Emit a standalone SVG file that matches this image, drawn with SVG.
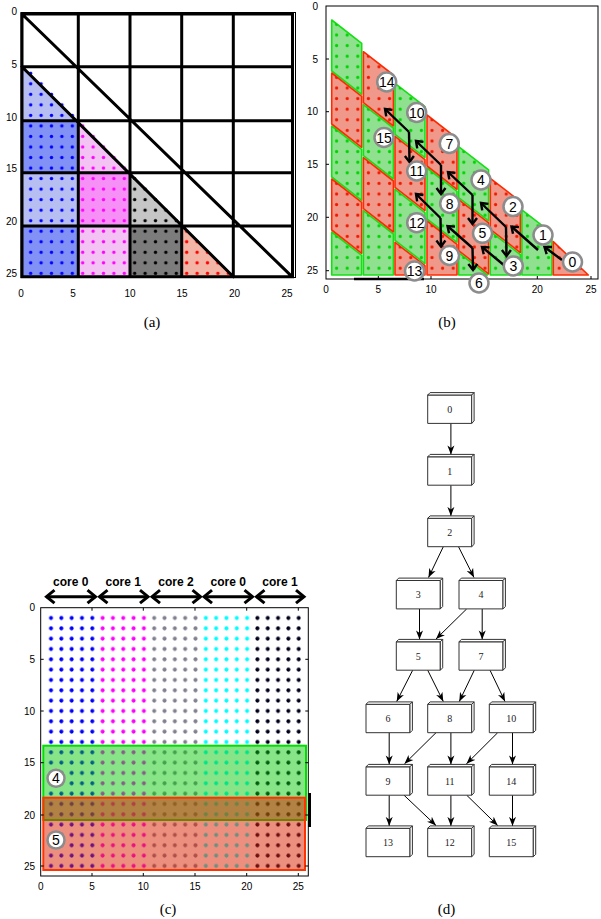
<svg xmlns="http://www.w3.org/2000/svg" width="601" height="919" viewBox="0 0 601 919">
<style>
  .tick{font-family:"Liberation Sans",Arial,sans-serif;font-size:10px;fill:#000}
  .tick.y{text-anchor:end}
  .tick.x{text-anchor:middle}
  .grid{stroke:#000;stroke-width:3;fill:none;stroke-linecap:square}
  .frame{stroke:#000;stroke-width:1;fill:none}
  .gt{fill:#8fe08f;stroke:#14e014;stroke-width:1.6;stroke-linejoin:round}
  .rt{fill:#f0998a;stroke:#ff2a00;stroke-width:1.6;stroke-linejoin:round}
  .badge circle{fill:#fff;stroke:#8c8c8c;stroke-width:2.5}
  .badge text{font-family:"Liberation Sans",Arial,sans-serif;font-size:14px;text-anchor:middle;fill:#000}
  .flow{stroke:#000;stroke-width:2.4;fill:none;marker-end:url(#chev)}
  .core{font-family:"Liberation Sans",Arial,sans-serif;font-weight:bold;font-size:12px;text-anchor:middle}
  .span{stroke:#000;stroke-width:3;marker-start:url(#chevL);marker-end:url(#chevL)}
  .node text{font-family:"Liberation Serif","Times New Roman",serif;font-size:10px;text-anchor:middle;fill:#222}
  .edge{stroke:#000;stroke-width:1;fill:none;marker-end:url(#vee)}
  .cap{font-family:"Liberation Serif","Times New Roman",serif;font-size:15px;text-anchor:middle}
</style>
<defs>
  <!-- arrowheads -->
  <marker id="chev" markerUnits="userSpaceOnUse" markerWidth="10" markerHeight="12" viewBox="0 0 10 12" refX="7.5" refY="6" orient="auto">
    <path d="M1.5,1.5 L7.5,6 L1.5,10.5" fill="none" stroke="#000" stroke-width="2.4"/>
  </marker>
  <marker id="chevL" markerUnits="userSpaceOnUse" markerWidth="12" markerHeight="16" viewBox="0 0 12 16" refX="9.5" refY="8" orient="auto-start-reverse">
    <path d="M1.5,1.5 L9.5,8 L1.5,14.5" fill="none" stroke="#000" stroke-width="3"/>
  </marker>
  <marker id="vee" markerUnits="userSpaceOnUse" markerWidth="10" markerHeight="8" viewBox="0 0 10 8" refX="9" refY="4" orient="auto">
    <path d="M0,0.5 L9,4 L0,7.5 L2.5,4 z" fill="#000"/>
  </marker>

  <!-- dot lattices, panel (a) -->
  <pattern id="aBlue" patternUnits="userSpaceOnUse" x="15.1" y="4.835" width="10.4" height="10.53"><circle cx="5.2" cy="5.265" r="1.7" fill="#0000ff"/></pattern>
  <pattern id="aMag" patternUnits="userSpaceOnUse" x="15.1" y="4.835" width="10.4" height="10.53"><circle cx="5.2" cy="5.265" r="1.7" fill="#ff00ff"/></pattern>
  <pattern id="aBlk" patternUnits="userSpaceOnUse" x="15.1" y="4.835" width="10.4" height="10.53"><circle cx="5.2" cy="5.265" r="1.7" fill="#000"/></pattern>
  <pattern id="aRed" patternUnits="userSpaceOnUse" x="15.1" y="4.835" width="10.4" height="10.53"><circle cx="5.2" cy="5.265" r="1.7" fill="#ff0000"/></pattern>
  <!-- dot lattices, panel (b) -->
  <pattern id="bG" patternUnits="userSpaceOnUse" x="320.7" y="-2.1" width="10.6" height="10.6"><circle cx="5.3" cy="5.3" r="1.6" fill="#00d400"/></pattern>
  <pattern id="bR" patternUnits="userSpaceOnUse" x="320.7" y="-2.1" width="10.6" height="10.6"><circle cx="5.3" cy="5.3" r="1.6" fill="#f01800"/></pattern>
  <!-- dot lattices, panel (c) -->
  <pattern id="cBlue" patternUnits="userSpaceOnUse" x="35.54" y="602.535" width="10.32" height="10.33"><circle cx="5.16" cy="5.165" r="2" fill="#0000ff"/></pattern>
  <pattern id="cMag" patternUnits="userSpaceOnUse" x="35.54" y="602.535" width="10.32" height="10.33"><circle cx="5.16" cy="5.165" r="2" fill="#ff00ff"/></pattern>
  <pattern id="cGray" patternUnits="userSpaceOnUse" x="35.54" y="602.535" width="10.32" height="10.33"><circle cx="5.16" cy="5.165" r="2" fill="#80808e"/></pattern>
  <pattern id="cCyan" patternUnits="userSpaceOnUse" x="35.54" y="602.535" width="10.32" height="10.33"><circle cx="5.16" cy="5.165" r="2" fill="#00ffff"/></pattern>
  <pattern id="cBlk" patternUnits="userSpaceOnUse" x="35.54" y="602.535" width="10.32" height="10.33"><circle cx="5.16" cy="5.165" r="2" fill="#00001a"/></pattern>

  <!-- panel (b) tiles -->
  <polygon id="g1" points="331.7,20 361.7,43.3 361.7,94.3 331.7,71"/>
  <polygon id="g2" points="331.7,126 361.7,149.3 361.7,200.3 331.7,177"/>
  <polygon id="g3" points="331.7,232 361.7,255.3 361.7,275 331.7,275"/>
  <polygon id="g4" points="363.4,104.7 393.4,128 393.4,179 363.4,155.7"/>
  <polygon id="g5" points="363.4,210.7 393.4,234 393.4,275 363.4,275"/>
  <polygon id="g6" points="395,83.3 425,106.6 425,157.6 395,134.3"/>
  <polygon id="g7" points="395,189.3 425,212.6 425,263.6 395,240.3"/>
  <polygon id="g8" points="427,168 457,191.3 457,242.3 427,219"/>
  <polygon id="g9" points="458.6,146.6 488.6,169.9 488.6,220.9 458.6,197.6"/>
  <polygon id="g10" points="458.6,252.6 487.4,275 458.6,275"/>
  <polygon id="g11" points="490.3,231.3 520.3,254.6 520.3,275 490.3,275"/>
  <polygon id="g12" points="521.9,209.9 551.9,233.2 551.9,275 521.9,275"/>
  <polygon id="r1" points="331.7,73 361.7,96.3 361.7,147.3 331.7,124"/>
  <polygon id="r2" points="331.7,179 361.7,202.3 361.7,253.3 331.7,230"/>
  <polygon id="r3" points="363.4,51.7 393.4,75 393.4,126 363.4,102.7"/>
  <polygon id="r4" points="363.4,157.7 393.4,181 393.4,232 363.4,208.7"/>
  <polygon id="r5" points="395,136.3 425,159.6 425,210.6 395,187.3"/>
  <polygon id="r6" points="395,242.3 425,265.6 425,275 395,275"/>
  <polygon id="r7" points="427,115 457,138.3 457,189.3 427,166"/>
  <polygon id="r8" points="427,221 457,244.3 457,275 427,275"/>
  <polygon id="r9" points="458.6,199.6 488.6,222.9 488.6,273.9 458.6,250.6"/>
  <polygon id="r10" points="490.3,178.3 520.3,201.6 520.3,252.6 490.3,229.3"/>
  <polygon id="r11" points="553.3,241.6 588.3,275 553.3,275"/>

  <!-- 3D task box, centred on the front face -->
  <g id="box" fill="#fff" stroke="#333" stroke-width="1" stroke-linejoin="round">
    <rect x="-22" y="-14.2" width="44" height="28.4"/>
    <path d="M-22,-14.2 L-19.6,-16.6 L24.4,-16.6 L22,-14.2 Z"/>
    <path d="M22,-14.2 L24.4,-16.6 L24.4,11.8 L22,14.2 Z"/>
  </g>
</defs>

<rect width="601" height="919" fill="#fff"/>

<!-- ===== (a) block layout of the lower triangle ===== -->
<g id="panel-a">
  <g id="a-fills">
    <polygon points="22,66.7 78.3,120.7 22,120.7" fill="#b6bef2"/>
    <rect x="22" y="120.7" width="56.3" height="52" fill="#8191f5"/>
    <rect x="22" y="172.7" width="56.3" height="53.3" fill="#b6bef2"/>
    <rect x="22" y="226" width="56.3" height="50.7" fill="#8191f5"/>
    <polygon points="78.3,120.7 130,172.7 78.3,172.7" fill="#f3c3f3"/>
    <rect x="78.3" y="172.7" width="51.7" height="53.3" fill="#f690f6"/>
    <rect x="78.3" y="226" width="51.7" height="50.7" fill="#f3c3f3"/>
    <polygon points="130,172.7 181.7,226 130,226" fill="#c6c6c6"/>
    <rect x="130" y="226" width="51.7" height="50.7" fill="#7c7c7c"/>
    <polygon points="181.7,226 233.3,276.7 181.7,276.7" fill="#f3b5a5"/>
  </g>
  <g id="a-dots">
    <polygon points="25.5,63 77.5,115.7 77.5,278.6 25.5,278.6" fill="url(#aBlue)"/>
    <polygon points="77.5,115.7 129.5,168.3 129.5,278.6 77.5,278.6" fill="url(#aMag)"/>
    <polygon points="129.5,168.3 181.5,221 181.5,278.6 129.5,278.6" fill="url(#aBlk)"/>
    <polygon points="181.5,221 233.5,273.6 233.5,278.6 181.5,278.6" fill="url(#aRed)"/>
  </g>
  <rect class="frame" x="21" y="12.5" width="274.5" height="265"/>
  <path class="grid" d="M22,14 V276.7 M78.3,14 V276.7 M130,14 V276.7 M181.7,14 V276.7 M233.3,14 V276.7 M292.5,14 V276.7
    M22,14 H292.5 M22,66.7 H292.5 M22,120.7 H292.5 M22,172.7 H292.5 M22,226 H292.5 M22,276.7 H292.5
    M22.5,14.5 L291.5,276.2 M22,66.7 L233.3,276.7"/>
  <g class="tick x">
    <text x="21" y="297">0</text><text x="73" y="297">5</text><text x="130" y="297">10</text>
    <text x="182" y="297">15</text><text x="234.5" y="297">20</text><text x="287" y="297">25</text>
  </g>
  <g class="tick y">
    <text x="17" y="14.5">0</text><text x="17" y="67.5">5</text><text x="17" y="120.5">10</text>
    <text x="17" y="171.5">15</text><text x="17" y="224.5">20</text><text x="17" y="276.5">25</text>
  </g>
  <text class="cap" x="152" y="327">(a)</text>
</g>

<!-- ===== (b) diagonal tiles and their order ===== -->
<g id="panel-b">
  <g id="b-tiles">
    <g class="gt">
      <use href="#g1"/><use href="#g2"/><use href="#g3"/><use href="#g4"/><use href="#g5"/><use href="#g6"/>
      <use href="#g7"/><use href="#g8"/><use href="#g9"/><use href="#g10"/><use href="#g11"/><use href="#g12"/>
    </g>
    <g class="rt">
      <use href="#r1"/><use href="#r2"/><use href="#r3"/><use href="#r4"/><use href="#r5"/><use href="#r6"/>
      <use href="#r7"/><use href="#r8"/><use href="#r9"/><use href="#r10"/><use href="#r11"/>
    </g>
  </g>
  <g id="b-dots" stroke="none">
    <g fill="url(#bG)">
      <use href="#g1"/><use href="#g2"/><use href="#g3"/><use href="#g4"/><use href="#g5"/><use href="#g6"/>
      <use href="#g7"/><use href="#g8"/><use href="#g9"/><use href="#g10"/><use href="#g11"/><use href="#g12"/>
    </g>
    <g fill="url(#bR)">
      <use href="#r1"/><use href="#r2"/><use href="#r3"/><use href="#r4"/><use href="#r5"/><use href="#r6"/>
      <use href="#r7"/><use href="#r8"/><use href="#r9"/><use href="#r10"/><use href="#r11"/>
    </g>
  </g>
  <rect class="frame" x="326" y="6" width="272" height="273"/>
  <path class="frame" d="M378.3,279 v-3 M431,279 v-3 M484.3,279 v-3 M537.3,279 v-3 M591,279 v-3
    M326,59 h3 M326,111.7 h3 M326,164.3 h3 M326,217.3 h3 M326,270.7 h3"/>
  <path d="M354,279 H424" stroke="#000" stroke-width="2.5"/>
  <!-- the 15 mark sits under badge 6 -->
  <g class="tick x">
    <text x="326" y="293">0</text><text x="378.3" y="293">5</text><text x="431" y="293">10</text>
    <text x="537.3" y="293">20</text><text x="591" y="293">25</text>
  </g>
  <g class="tick y">
    <text x="318" y="9.5">0</text><text x="318" y="62.5">5</text><text x="318" y="115.2">10</text>
    <text x="318" y="167.8">15</text><text x="318" y="220.8">20</text><text x="318" y="274.2">25</text>
  </g>
  <g id="b-order">
    <path class="flow" d="M409,132 L385,109"/><path class="flow" d="M409,132 L409.5,162"/>
    <path class="flow" d="M441,165 L416,141"/><path class="flow" d="M441,165 L441,194"/>
    <path class="flow" d="M472.5,195 L448,172"/><path class="flow" d="M472.5,195 L472.5,224"/>
    <path class="flow" d="M506,227 L481,203"/><path class="flow" d="M506,227 L506.5,256"/>
    <path class="flow" d="M538,250 L511.5,226.5"/>
    <path class="flow" d="M562,260 L544.5,247"/>
    <path class="flow" d="M440.5,218 L416,194"/><path class="flow" d="M440.5,218 L441,246.5"/>
    <path class="flow" d="M472.5,248 L447.5,226"/><path class="flow" d="M472.5,248 L473,270"/>
    <path class="flow" d="M505,266 L482,247"/>
  </g>
  <g id="b-badges" class="badge">
    <g id="tile-0"><circle cx="572.5" cy="262" r="9.5"/><text x="572.5" y="267">0</text></g>
    <g id="tile-1"><circle cx="543" cy="235" r="9.5"/><text x="543" y="240">1</text></g>
    <g id="tile-2"><circle cx="513" cy="206.5" r="9.5"/><text x="513" y="211.5">2</text></g>
    <g id="tile-3"><circle cx="513.3" cy="266" r="9.5"/><text x="513.3" y="271">3</text></g>
    <g id="tile-4"><circle cx="481" cy="180" r="9.5"/><text x="481" y="185">4</text></g>
    <g id="tile-5"><circle cx="482.5" cy="233.3" r="9.5"/><text x="482.5" y="238.3">5</text></g>
    <g id="tile-6"><circle cx="479" cy="283" r="9.5"/><text x="479" y="288">6</text></g>
    <g id="tile-7"><circle cx="449.3" cy="143.5" r="9.5"/><text x="449.3" y="148.5">7</text></g>
    <g id="tile-8"><circle cx="449.7" cy="203.5" r="9.5"/><text x="449.7" y="208.5">8</text></g>
    <g id="tile-9"><circle cx="449.5" cy="255.5" r="9.5"/><text x="449.5" y="260.5">9</text></g>
    <g id="tile-10"><circle cx="416.7" cy="112.5" r="9.5"/><text x="416.7" y="117.5">10</text></g>
    <g id="tile-11"><circle cx="416.7" cy="171" r="9.5"/><text x="416.7" y="176">11</text></g>
    <g id="tile-12"><circle cx="416.7" cy="222.7" r="9.5"/><text x="416.7" y="227.7">12</text></g>
    <g id="tile-13"><circle cx="414.5" cy="271" r="9.5"/><text x="414.5" y="276">13</text></g>
    <g id="tile-14"><circle cx="386.7" cy="82" r="9.5"/><text x="386.7" y="87">14</text></g>
    <g id="tile-15"><circle cx="384" cy="137.5" r="9.5"/><text x="384" y="142.5">15</text></g>
  </g>
  <text class="cap" x="447" y="327">(b)</text>
</g>

<!-- ===== (c) column distribution over cores ===== -->
<g id="panel-c">
  <g id="c-cores">
    <text class="core" x="70.7" y="586">core 0</text>
    <text class="core" x="123.3" y="586">core 1</text>
    <text class="core" x="176" y="586">core 2</text>
    <text class="core" x="228.3" y="586">core 0</text>
    <text class="core" x="280" y="586">core 1</text>
    <line class="span" x1="46.5" y1="596.7" x2="95.5" y2="596.7"/>
    <line class="span" x1="99.5" y1="596.7" x2="148" y2="596.7"/>
    <line class="span" x1="152" y1="596.7" x2="200.5" y2="596.7"/>
    <line class="span" x1="204" y1="596.7" x2="252.5" y2="596.7"/>
    <line class="span" x1="256.5" y1="596.7" x2="304" y2="596.7"/>
  </g>
  <g id="c-dots">
    <rect x="45.86" y="612.9" width="51.6" height="259" fill="url(#cBlue)"/>
    <rect x="97.46" y="612.9" width="51.6" height="259" fill="url(#cMag)"/>
    <rect x="149.06" y="612.9" width="51.6" height="259" fill="url(#cGray)"/>
    <rect x="200.66" y="612.9" width="51.6" height="259" fill="url(#cCyan)"/>
    <rect x="252.26" y="612.9" width="51.6" height="259" fill="url(#cBlk)"/>
  </g>
  <rect id="c-band-4" x="43.3" y="745.7" width="262.7" height="74.3" fill="rgba(0,200,0,0.47)" stroke="#00e000" stroke-width="2"/>
  <rect id="c-band-5" x="43.3" y="797.7" width="261.7" height="72.3" fill="rgba(220,32,0,0.5)" stroke="#ff3300" stroke-width="2"/>
  <rect class="frame" x="40.7" y="607.7" width="267.6" height="268.3"/>
  <rect x="308" y="793" width="3" height="34" fill="#000"/>
  <path class="frame" d="M92,876 v-3 M143.3,876 v-3 M195,876 v-3 M246.7,876 v-3 M298.3,876 v-3
    M92,607.7 v3 M143.3,607.7 v3 M195,607.7 v3 M246.7,607.7 v3 M298.3,607.7 v3
    M40.7,659.3 h3 M40.7,711 h3 M40.7,762.7 h3 M40.7,815 h3 M40.7,866 h3
    M308.3,659.3 h-3 M308.3,711 h-3 M308.3,762.7 h-3 M308.3,815 h-3 M308.3,866 h-3"/>
  <g class="tick x">
    <text x="40.7" y="889.5">0</text><text x="92" y="889.5">5</text><text x="143.3" y="889.5">10</text>
    <text x="195" y="889.5">15</text><text x="246.7" y="889.5">20</text><text x="298.3" y="889.5">25</text>
  </g>
  <g class="tick y">
    <text x="35" y="611.2">0</text><text x="35" y="662.8">5</text><text x="35" y="714.5">10</text>
    <text x="35" y="766.2">15</text><text x="35" y="818.5">20</text><text x="35" y="869.5">25</text>
  </g>
  <g class="badge">
    <g id="band-4"><circle cx="56" cy="778.3" r="8.5"/><text x="56" y="783.3">4</text></g>
    <g id="band-5"><circle cx="56" cy="840" r="8.5"/><text x="56" y="845">5</text></g>
  </g>
  <text class="cap" x="168" y="914">(c)</text>
</g>

<!-- ===== (d) task dependency graph ===== -->
<g id="panel-d">
  <g id="deps">
    <path class="edge" d="M450.9,423.4 V454.4"/>
    <path class="edge" d="M450.9,485.2 V515.9"/>
    <path class="edge" d="M443.3,546.7 L428.5,577.5"/>
    <path class="edge" d="M458.5,546.7 L474,577.5"/>
    <path class="edge" d="M419.5,608.9 V639.4"/>
    <path class="edge" d="M466.7,608.9 L436,639"/>
    <path class="edge" d="M482.2,608.9 V639.4"/>
    <path class="edge" d="M412.7,670.2 L396.7,701.5"/>
    <path class="edge" d="M427.7,670.2 L443.3,701.5"/>
    <path class="edge" d="M474.3,670.2 L459.3,701.5"/>
    <path class="edge" d="M490,670.2 L505,701.5"/>
    <path class="edge" d="M389.2,732.7 V764.4"/>
    <path class="edge" d="M436,732.7 L404.5,763.8"/>
    <path class="edge" d="M450.9,732.7 V764.4"/>
    <path class="edge" d="M497.7,732.7 L466.5,763.8"/>
    <path class="edge" d="M512.5,732.7 V764.4"/>
    <path class="edge" d="M389.2,795.2 V825.9"/>
    <path class="edge" d="M404,795.2 L436,825.5"/>
    <path class="edge" d="M450.9,795.2 V825.9"/>
    <path class="edge" d="M466.7,795.2 L497.7,825.5"/>
    <path class="edge" d="M512.5,795.2 V825.9"/>
  </g>
  <g id="task-0" class="node" transform="translate(449.7,409.2)"><use href="#box"/><text y="3.5">0</text></g>
  <g id="task-1" class="node" transform="translate(449.7,471)"><use href="#box"/><text y="3.5">1</text></g>
  <g id="task-2" class="node" transform="translate(449.7,532.5)"><use href="#box"/><text y="3.5">2</text></g>
  <g id="task-3" class="node" transform="translate(418.3,594.7)"><use href="#box"/><text y="3.5">3</text></g>
  <g id="task-4" class="node" transform="translate(481,594.7)"><use href="#box"/><text y="3.5">4</text></g>
  <g id="task-5" class="node" transform="translate(418.3,656)"><use href="#box"/><text y="3.5">5</text></g>
  <g id="task-7" class="node" transform="translate(481,656)"><use href="#box"/><text y="3.5">7</text></g>
  <g id="task-6" class="node" transform="translate(388,718.5)"><use href="#box"/><text y="3.5">6</text></g>
  <g id="task-8" class="node" transform="translate(449.7,718.5)"><use href="#box"/><text y="3.5">8</text></g>
  <g id="task-10" class="node" transform="translate(511.3,718.5)"><use href="#box"/><text y="3.5">10</text></g>
  <g id="task-9" class="node" transform="translate(388,781)"><use href="#box"/><text y="3.5">9</text></g>
  <g id="task-11" class="node" transform="translate(449.7,781)"><use href="#box"/><text y="3.5">11</text></g>
  <g id="task-14" class="node" transform="translate(511.3,781)"><use href="#box"/><text y="3.5">14</text></g>
  <g id="task-13" class="node" transform="translate(388,842.5)"><use href="#box"/><text y="3.5">13</text></g>
  <g id="task-12" class="node" transform="translate(449.7,842.5)"><use href="#box"/><text y="3.5">12</text></g>
  <g id="task-15" class="node" transform="translate(511.3,842.5)"><use href="#box"/><text y="3.5">15</text></g>
  <text class="cap" x="446.5" y="914">(d)</text>
</g>
</svg>
